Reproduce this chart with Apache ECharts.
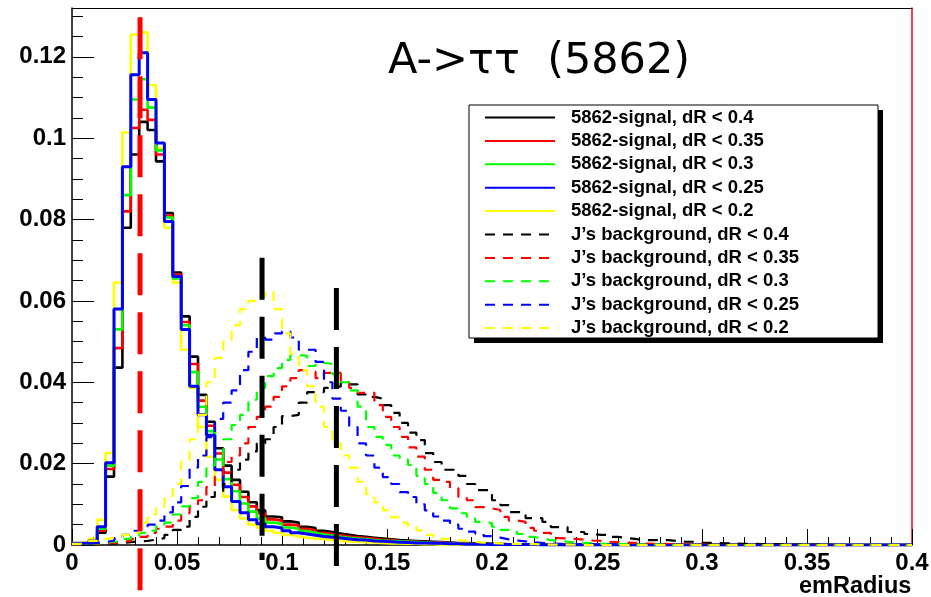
<!DOCTYPE html>
<html><head><meta charset="utf-8">
<script src="https://cdn.jsdelivr.net/npm/echarts@6/dist/echarts.min.js"></script>
<style>html,body{margin:0;padding:0;background:#fff}#chart{width:931px;height:597px}</style>
</head><body><div id="chart"></div>
<script>
// ---------- data ----------
const binWidth = 0.004;   // 100 bins from 0 to 0.4

const sigBlack = [
0.0003,0.0004,0.0008,0.003,0.0168,0.0436,0.078,0.096,0.104,0.102,
0.0943,0.0816,0.067,0.0562,0.0463,0.0369,0.0303,0.0238,0.0195,0.016,
0.0131,0.0105,0.0085,0.007,0.0068,0.0058,0.0055,0.0045,0.0042,0.0035,
0.0032,0.0028,0.0025,0.0022,0.002,0.0018,0.0016,0.0014,0.0012,0.0011,
0.001,0.0009,0.0008,0.0007,0.0006,0.0005,0.0005,0.0004,0.0004,0.0003,
0.0003,0.0002,0.0002,0.0002,0.0002,0.0002,0.0001,0.0001,0.0001,0.0001,
0.0001,0.0001,0.0001,0.0001,0.0001,0.0001,0,0,0,0,
0,0,0,0,0,0,0,0,0,0,
0,0,0,0,0,0,0,0,0,0,
0,0,0,0,0,0,0,0,0,0];
const sigRed = [
0.0003,0.0004,0.0009,0.0035,0.0187,0.0484,0.082,0.1025,0.107,0.1045,
0.096,0.081,0.0665,0.0548,0.0445,0.0355,0.0293,0.0225,0.0178,0.0148,
0.0118,0.0095,0.0078,0.0063,0.006,0.005,0.0048,0.004,0.0036,0.003,
0.0027,0.0024,0.0021,0.0019,0.0017,0.0015,0.0013,0.0012,0.001,0.0009,
0.0008,0.0007,0.0006,0.0006,0.0005,0.0004,0.0004,0.0003,0.0003,0.0002,
0.0002,0.0002,0.0002,0.0002,0.0002,0.0001,0.0001,0.0001,0.0001,0.0001,
0.0001,0.0001,0.0001,0,0,0,0,0,0,0,
0,0,0,0,0,0,0,0,0,0,
0,0,0,0,0,0,0,0,0,0,
0,0,0,0,0,0,0,0,0,0];
const sigGreen = [
0.0003,0.0004,0.0009,0.004,0.0195,0.053,0.086,0.1095,0.1145,0.1075,
0.097,0.0805,0.0655,0.054,0.0425,0.034,0.028,0.021,0.0162,0.0132,
0.0102,0.0082,0.0065,0.0055,0.0052,0.0043,0.004,0.0034,0.003,0.0026,
0.0023,0.002,0.0018,0.0016,0.0014,0.0012,0.0011,0.001,0.0009,0.0008,
0.0007,0.0006,0.0005,0.0005,0.0004,0.0003,0.0003,0.0002,0.0002,0.0002,
0.0001,0.0001,0.0001,0.0001,0.0001,0.0001,0,0,0,0,
0,0,0,0,0,0,0,0,0,0,
0,0,0,0,0,0,0,0,0,0,
0,0,0,0,0,0,0,0,0,0,
0,0,0,0,0,0,0,0,0,0];
const sigBlue = [
0.0004,0.0005,0.001,0.0045,0.0202,0.058,0.093,0.1156,0.121,0.1095,
0.0988,0.0795,0.066,0.053,0.039,0.032,0.027,0.0185,0.0143,0.0107,
0.0079,0.0062,0.0052,0.0045,0.0042,0.0035,0.003,0.0027,0.0024,0.0021,
0.0019,0.0017,0.0015,0.0013,0.0012,0.001,0.0009,0.0008,0.0007,0.0006,
0.0005,0.0005,0.0004,0.0004,0.0003,0.0003,0.0002,0.0002,0.0002,0.0001,
0.0001,0.0001,0.0001,0.0001,0.0001,0,0,0,0,0,
0,0,0,0,0,0,0,0,0,0,
0,0,0,0,0,0,0,0,0,0,
0,0,0,0,0,0,0,0,0,0,
0,0,0,0,0,0,0,0,0,0];
const sigYellow = [
0.0005,0.0008,0.0015,0.0062,0.0226,0.0645,0.1014,0.1255,0.126,0.113,
0.0975,0.078,0.0645,0.048,0.0386,0.029,0.0217,0.016,0.0119,0.0086,
0.0065,0.005,0.0042,0.0035,0.003,0.0025,0.0021,0.0018,0.0016,0.0014,
0.0012,0.001,0.0009,0.0008,0.0007,0.0006,0.0005,0.0004,0.0004,0.0003,
0.0003,0.0002,0.0002,0.0001,0.0001,0.0001,0.0001,0,0,0,
0,0,0,0,0,0,0,0,0,0,
0,0,0,0,0,0,0,0,0,0,
0,0,0,0,0,0,0,0,0,0,
0,0,0,0,0,0,0,0,0,0,
0,0,0,0,0,0,0,0,0,0];

const bgBlack = [
0.0001,0.0001,0.0002,0.0003,0.0004,0.0005,0.0007,0.0009,0.001,0.0013,
0.0017,0.0025,0.0037,0.0045,0.0069,0.0094,0.0118,0.013,0.015,0.0185,
0.021,0.023,0.025,0.026,0.029,0.0317,0.032,0.035,0.0376,0.0376,
0.0386,0.039,0.040,0.0395,0.037,0.0364,0.036,0.0344,0.0325,0.030,
0.0276,0.0258,0.0226,0.0204,0.0185,0.0185,0.017,0.015,0.0135,0.0135,
0.011,0.0098,0.0081,0.0081,0.0066,0.0066,0.0057,0.0044,0.0044,0.0032,
0.0032,0.0027,0.0025,0.0025,0.002,0.0017,0.0015,0.0012,0.0012,0.0012,
0.0012,0.001,0.0008,0.0008,0.0006,0.0005,0.0005,0.0004,0.0004,0.0003,
0.0003,0.0002,0.0002,0.0002,0.0001,0.0001,0.0001,0.0001,0.0001,0.0001,
0,0,0,0,0,0,0,0,0,0];
const bgRed = [
0.0001,0.0002,0.0003,0.0004,0.0005,0.0008,0.001,0.0015,0.002,0.003,
0.004,0.0045,0.006,0.0078,0.0095,0.011,0.0143,0.0168,0.0204,0.022,
0.025,0.029,0.0315,0.034,0.0364,0.039,0.041,0.043,0.0426,0.041,
0.0423,0.0423,0.040,0.0386,0.0374,0.0374,0.0344,0.0315,0.029,0.0266,
0.024,0.0217,0.0185,0.016,0.0155,0.014,0.0118,0.011,0.0093,0.009,
0.0086,0.0069,0.006,0.0057,0.0042,0.0035,0.003,0.0017,0.0016,0.0015,
0.0013,0.0011,0.001,0.0008,0.0007,0.0006,0.0005,0.0004,0.0003,0.0003,
0.0002,0.0002,0.0001,0.0001,0.0001,0,0,0,0,0,
0,0,0,0,0,0,0,0,0,0,
0,0,0,0,0,0,0,0,0,0];
const bgGreen = [
0.0002,0.0003,0.0004,0.0006,0.0008,0.001,0.0015,0.002,0.003,0.0035,
0.0045,0.0055,0.0075,0.0095,0.0115,0.0155,0.0195,0.0215,0.026,0.0295,
0.032,0.0357,0.0386,0.0415,0.0435,0.0455,0.0467,0.0465,0.044,0.0448,
0.0445,0.042,0.040,0.038,0.034,0.029,0.0266,0.0246,0.022,0.021,
0.0197,0.017,0.015,0.0128,0.011,0.009,0.0078,0.0065,0.0057,0.0054,
0.0045,0.0037,0.0032,0.0027,0.002,0.0016,0.0012,0.001,0.0008,0.0006,
0.0005,0.0004,0.0003,0.0003,0.0002,0.0002,0.0001,0.0001,0.0001,0.0001,
0,0,0,0,0,0,0,0,0,0,
0,0,0,0,0,0,0,0,0,0,
0,0,0,0,0,0,0,0,0,0];
const bgBlue = [
0.0002,0.0003,0.0005,0.0008,0.001,0.0015,0.0025,0.0035,0.0045,0.005,
0.006,0.008,0.0105,0.0145,0.019,0.022,0.0265,0.031,0.035,0.038,
0.043,0.0475,0.051,0.0505,0.052,0.0525,0.051,0.048,0.048,0.045,
0.040,0.036,0.033,0.029,0.025,0.022,0.019,0.0167,0.015,0.013,
0.0118,0.010,0.0085,0.007,0.006,0.005,0.004,0.0033,0.0028,0.0022,
0.0018,0.0014,0.0011,0.0009,0.0007,0.0005,0.0004,0.0003,0.0002,0.0002,
0.0001,0.0001,0.0001,0.0001,0.0001,0,0,0,0,0,
0,0,0,0,0,0,0,0,0,0,
0,0,0,0,0,0,0,0,0,0,
0,0,0,0,0,0,0,0,0,0];
const bgYellow = [
0.0003,0.0005,0.001,0.0015,0.0017,0.002,0.0025,0.003,0.0055,0.0075,
0.009,0.012,0.015,0.0205,0.026,0.032,0.040,0.046,0.050,0.054,
0.058,0.060,0.061,0.0622,0.058,0.052,0.047,0.043,0.039,0.034,
0.029,0.025,0.022,0.019,0.0155,0.0125,0.0105,0.0085,0.0068,0.0055,
0.0045,0.0036,0.0025,0.002,0.0015,0.0012,0.001,0.0008,0.0006,0.0005,
0.0004,0.0003,0.0003,0.0002,0.0002,0.0001,0.0001,0.0001,0.0001,0.0001,
0,0,0,0,0,0,0,0,0,0,
0,0,0,0,0,0,0,0,0,0,
0,0,0,0,0,0,0,0,0,0,
0,0,0,0,0,0,0,0,0,0];

const sigNames = ['5862-signal, dR < 0.4','5862-signal, dR < 0.35','5862-signal, dR < 0.3','5862-signal, dR < 0.25','5862-signal, dR < 0.2'];
const bgNames = ['J\u2019s background, dR < 0.4','J\u2019s background, dR < 0.35','J\u2019s background, dR < 0.3','J\u2019s background, dR < 0.25','J\u2019s background, dR < 0.2'];
const colors = ['#000000','#ff0000','#00ff00','#0000ff','#ffff00'];

// vertical cut markers (x position, top, bottom in data units)
const cutX = [0.0324, 0.0905, 0.1259];
const cutTop = [0.1297, 0.0706, 0.0632];
const cutBottom = [-0.0113, -0.0037, -0.0082];
const cutColors = ['#ff0000', '#000000', '#000000'];

const xTickLabels = ['0','0.05','0.1','0.15','0.2','0.25','0.3','0.35','0.4'];
const yTickLabels = ['0','0.02','0.04','0.06','0.08','0.1','0.12'];
const titleText = 'A->\u03c4\u03c4  (5862)';
const xName = 'emRadius';

// ---------- build ----------
function histData(vals){
  const d = [];
  for (let k = 0; k < vals.length; k++) d.push([+(k*binWidth).toFixed(4), vals[k]]);
  d.push([+(vals.length*binWidth).toFixed(4), vals[vals.length-1]]);
  return d;
}
const sigArr = [sigBlack, sigRed, sigGreen, sigBlue, sigYellow];
const bgArr = [bgBlack, bgRed, bgGreen, bgBlue, bgYellow];

const series = [];
const sigOrder = [4,0,1,2,3];
sigOrder.forEach(i => series.push({
  name: sigNames[i], type: 'line', step: 'end', symbol: 'none', showSymbol: false,
  data: histData(sigArr[i]), animation: false,
  lineStyle: {color: colors[i], width: i===3 ? 3 : 2.6},
  itemStyle: {color: colors[i]}
}));
[0,1,2,3,4].forEach(i => series.push({
  name: bgNames[i], type: 'line', step: 'end', symbol: 'none', showSymbol: false,
  data: histData(bgArr[i]), animation: false,
  lineStyle: {color: colors[i], width: 2.2, type: [10, 8]},
  itemStyle: {color: colors[i]}
}));
cutX.forEach((x, i) => series.push({
  type: 'line', symbol: 'none', clip: false, silent: true, animation: false, z: 4,
  data: [[x, cutTop[i]], [x, cutBottom[i]]],
  lineStyle: {color: cutColors[i], width: 5, type: [42, 17]}
}));

const labelFont = {fontFamily: 'Liberation Sans', fontWeight: 'bold', fontSize: 24, color: '#000'};

const chart = echarts.init(document.getElementById('chart'), null, {renderer: 'canvas'});
chart.setOption({
  animation: false,
  backgroundColor: '#fff',
  title: {
    text: titleText, left: 388, top: 40, padding: 0,
    textStyle: {fontFamily: 'DejaVu Sans', fontWeight: 'normal', fontSize: 43, color: '#000'}
  },
  grid: {left: 72, right: 19, top: 8, bottom: 52, containLabel: false, outerBoundsMode: 'none'},
  xAxis: [{
    type: 'value', min: 0, max: 0.4, interval: 0.05,
    axisLine: {show: true, lineStyle: {color: '#000', width: 1.5}},
    axisTick: {show: true, inside: true, length: 16, lineStyle: {color: '#000', width: 1}},
    minorTick: {show: true, splitNumber: 5, length: 8, lineStyle: {color: '#000', width: 1}},
    splitLine: {show: false},
    axisLabel: Object.assign({margin: 6, formatter: v => { const s = xTickLabels[Math.round(v/0.05)]; return s === undefined ? '' : s; }}, labelFont),
    name: xName, nameLocation: 'end', nameGap: -113,
    nameTextStyle: {fontFamily: 'Liberation Sans', fontWeight: 'bold', fontSize: 23.5, color: '#000', verticalAlign: 'top', padding: [30, 0, 0, 0]}
  }, {
    type: 'value', min: 0, max: 0.4, position: 'top',
    axisLine: {show: true, onZero: false, lineStyle: {color: '#000', width: 1}},
    axisTick: {show: false}, axisLabel: {show: false}, splitLine: {show: false}
  }],
  yAxis: [{
    type: 'value', min: 0, max: 0.132, interval: 0.02,
    axisLine: {show: true, lineStyle: {color: '#000', width: 1.5}},
    axisTick: {show: true, inside: true, length: 22, lineStyle: {color: '#000', width: 1}},
    minorTick: {show: true, splitNumber: 4, length: 11, lineStyle: {color: '#000', width: 1}},
    splitLine: {show: false},
    axisLabel: Object.assign({margin: 6, showMaxLabel: false, formatter: v => { const s = yTickLabels[Math.round(v/0.02)]; return (s === undefined || Math.abs(v - Math.round(v/0.02)*0.02) > 1e-6) ? '' : s; }}, labelFont)
  }, {
    type: 'value', min: 0, max: 0.132, position: 'right',
    axisLine: {show: true, onZero: false, lineStyle: {color: '#ff0000', width: 1.5}},
    axisTick: {show: false}, axisLabel: {show: false}, splitLine: {show: false}
  }],
  graphic: [
    {type: 'rect', z: 10, shape: {x: 474, y: 110, width: 409, height: 233}, style: {fill: '#000'}},
    {type: 'rect', z: 11, shape: {x: 469, y: 105, width: 409, height: 233}, style: {fill: '#fff', stroke: '#000', lineWidth: 1}}
  ],
  legend: {
    z: 20, orient: 'vertical', left: 484, top: 108, padding: 0,
    itemWidth: 70, itemHeight: 14, itemGap: 4.4, selectedMode: false,
    itemStyle: {color: 'rgba(0,0,0,0)', borderWidth: 0, borderColor: 'rgba(0,0,0,0)'},
    data: sigNames.concat(bgNames),
    textStyle: {fontFamily: 'Liberation Sans', fontWeight: 'bold', fontSize: 18.5, color: '#000', lineHeight: 14, padding: [0, 0, 0, 11]}
  },
  series: series
});
</script></body></html>
